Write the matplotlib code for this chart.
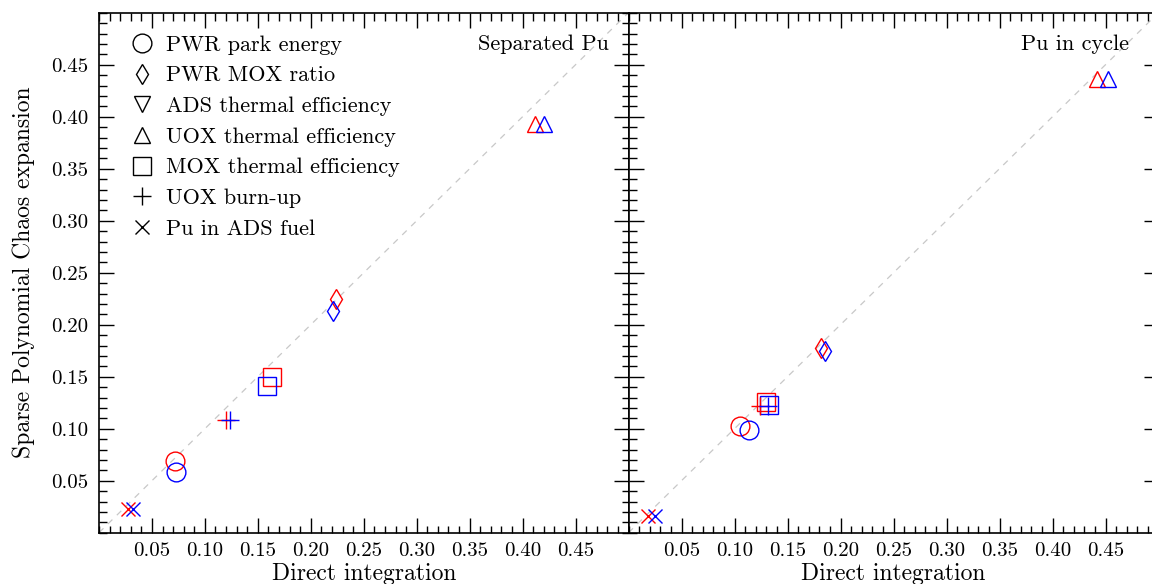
import numpy as np
import matplotlib
matplotlib.use("Agg")
import matplotlib.pyplot as plt
from matplotlib.ticker import FixedLocator, MultipleLocator
from matplotlib.lines import Line2D

plt.rcParams['font.family'] = 'serif'
plt.rcParams['font.serif'] = ['cmr10', 'DejaVu Serif']
plt.rcParams['mathtext.fontset'] = 'cm'
plt.rcParams['axes.formatter.use_mathtext'] = True

# ---- data ----
labels = ["PWR park energy", "PWR MOX ratio", "ADS thermal efficiency",
          "UOX thermal efficiency", "MOX thermal efficiency", "UOX burn-up",
          "Pu in ADS fuel"]
markers = ['o', 'd', 'v', '^', 's', '+', 'x']

panel_titles = ["Separated Pu", "Pu in cycle"]

# Separated Pu (red / blue); None = not plotted
sep_red_x = [0.072, 0.224, None, 0.412, 0.163, 0.120, 0.027]
sep_red_y = [0.069, 0.225, None, 0.393, 0.150, 0.108, 0.023]
sep_blue_x = [0.073, 0.221, None, 0.420, 0.159, 0.124, 0.032]
sep_blue_y = [0.058, 0.2135, None, 0.393, 0.141, 0.108, 0.023]

# Pu in cycle
cyc_red_x = [0.1055, 0.182, None, 0.442, 0.130, 0.124, 0.018]
cyc_red_y = [0.1026, 0.1776, None, 0.436, 0.1254, 0.122, 0.0164]
cyc_blue_x = [0.114, 0.185, None, 0.4524, 0.133, 0.132, 0.025]
cyc_blue_y = [0.0988, 0.175, None, 0.436, 0.1228, 0.122, 0.0164]

tick_vals = [0.05, 0.10, 0.15, 0.20, 0.25, 0.30, 0.35, 0.40, 0.45]
tick_labels = ["0.05", "0.10", "0.15", "0.20", "0.25", "0.30", "0.35", "0.40", "0.45"]
diag = [0.0, 0.5]

# marker sizes (style)
msizes = [13.5, 10.2, 12.0, 12.0, 13.4, 13.0, 10.5]

W, H = 1152, 584
fig = plt.figure(figsize=(W / 100, H / 100), dpi=100)
bottom = (H - 532.7) / H
height = 520.0 / H
ax1 = fig.add_axes([99.0 / W, bottom, 529.5 / W, height])
ax2 = fig.add_axes([628.5 / W, bottom, 530.0 / W, height])

panels = [
    (ax1, sep_red_x, sep_red_y, sep_blue_x, sep_blue_y),
    (ax2, cyc_red_x, cyc_red_y, cyc_blue_x, cyc_blue_y),
]

for i, (ax, rx, ry, bx, by) in enumerate(panels):
    ax.plot(diag, diag, linestyle=(0, (5, 5)), color='#c8c8c8', lw=0.9, zorder=1)
    for k, m in enumerate(markers):
        if rx[k] is not None:
            ax.plot([rx[k]], [ry[k]], marker=m, linestyle='none', markersize=msizes[k],
                    markerfacecolor='none', markeredgecolor='red', markeredgewidth=1.0,
                    zorder=3)
        if bx[k] is not None:
            ax.plot([bx[k]], [by[k]], marker=m, linestyle='none', markersize=msizes[k],
                    markerfacecolor='none', markeredgecolor='blue', markeredgewidth=1.0,
                    zorder=3)
    ax.set_xlim(0, 0.5)
    ax.set_ylim(0, 0.5)
    ax.xaxis.set_major_locator(FixedLocator(tick_vals))
    ax.yaxis.set_major_locator(FixedLocator(tick_vals))
    ax.xaxis.set_minor_locator(MultipleLocator(0.01))
    ax.yaxis.set_minor_locator(MultipleLocator(0.01))
    ax.set_xticklabels(tick_labels)
    ax.tick_params(which='both', direction='in', top=True, right=True,
                   labelsize=15, width=1.0, color='black')
    ax.tick_params(which='major', length=10.8, pad=7)
    ax.tick_params(which='minor', length=5.4)
    ax.tick_params(axis='y', which='major', pad=8)
    for sp in ax.spines.values():
        sp.set_linewidth(1.2)
    ax.set_xlabel("Direct integration", fontsize=17, labelpad=2)
    ax.text(0.963 if i == 0 else 0.945, 0.94, panel_titles[i], transform=ax.transAxes,
            ha='right', va='center', fontsize=16)

ax1.set_yticklabels(tick_labels)
ax2.set_yticklabels([])
ax1.set_ylabel("Sparse Polynomial Chaos expansion", fontsize=17, labelpad=11)

handles = [Line2D([], [], marker=m, linestyle='none', markersize=s,
                  markerfacecolor='none', markeredgecolor='black', markeredgewidth=1.0)
           for m, s in zip(markers, msizes)]
ax1.legend(handles, labels, loc='upper left', bbox_to_anchor=(0.0387, 0.974),
           frameon=False, fontsize=16, numpoints=1, handlelength=1.2,
           handletextpad=0.48, labelspacing=0.5, borderaxespad=0.0)

fig.savefig("out.png", dpi=100)
